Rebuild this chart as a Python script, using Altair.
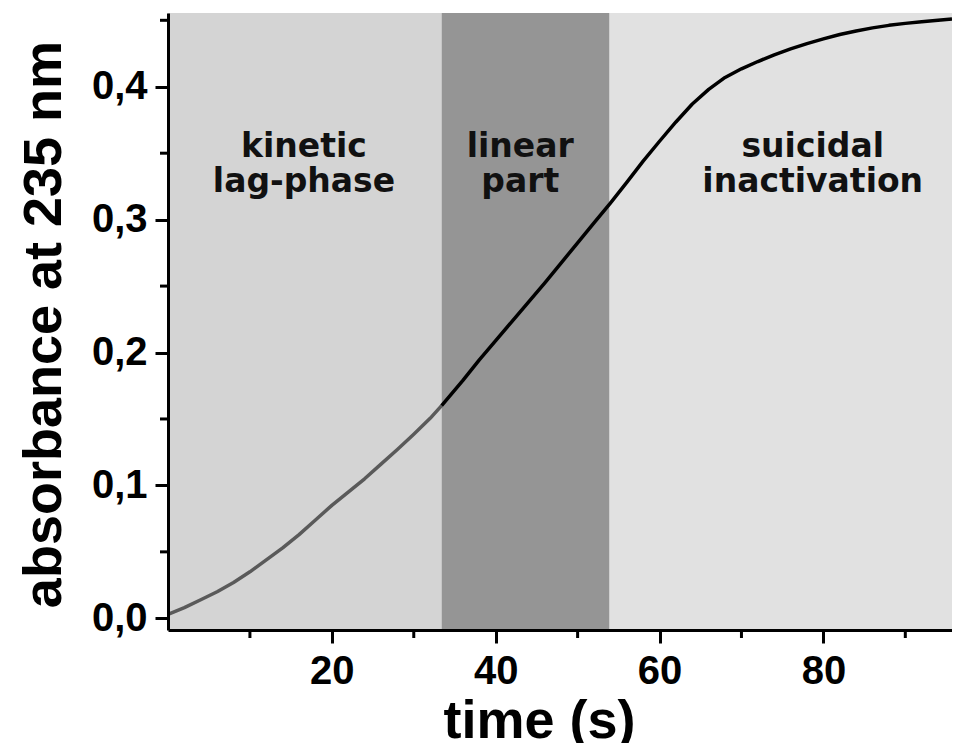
import altair as alt
import pandas as pd

# --- data ---
lag_t = [0, 2, 4, 6, 8, 10, 12, 14, 16, 18, 20, 22, 24, 26, 28, 30, 32, 33.4]
lag_a = [0.003, 0.008, 0.014, 0.020, 0.027, 0.035, 0.044, 0.053, 0.063, 0.074,
         0.085, 0.095, 0.105, 0.116, 0.127, 0.1385, 0.1505, 0.160]

main_t = [33.4, 36, 38, 40, 42, 44, 46, 48, 50, 52, 54, 56, 58, 60, 62, 64, 66,
          68, 70, 72, 74, 76, 78, 80, 82, 84, 86, 88, 90, 92, 94, 95.7]
main_a = [0.160, 0.179, 0.1945, 0.209, 0.2235, 0.238, 0.2525, 0.2675, 0.2825, 0.2975,
          0.3125, 0.328, 0.344, 0.359, 0.3735, 0.387, 0.398, 0.407, 0.4135, 0.419,
          0.424, 0.4285, 0.4325, 0.436, 0.4393, 0.442, 0.4443, 0.4462, 0.4477, 0.449,
          0.450, 0.451]

band_start = [0, 33.4, 53.9]
band_end = [33.4, 53.9, 95.7]
band_name = ["lag", "linear", "suicidal"]
band_color = ["#d4d4d4", "#959595", "#e1e1e1"]

ann_text = ["kinetic\nlag-phase", "linear\npart", "suicidal\ninactivation"]
ann_t = [16.6, 43.0, 78.7]
ann_a = [0.3473, 0.3473, 0.3473]

x_major = [20, 40, 60, 80]
x_minor = [10, 30, 50, 70, 90]
y_major = [0.0, 0.1, 0.2, 0.3, 0.4]
y_minor = [0.05, 0.15, 0.25, 0.35, 0.45]

X_DOMAIN = [0, 95.7]
Y_DOMAIN = [-0.0088, 0.4555]

curve = pd.DataFrame(
    {"t": lag_t + main_t,
     "a": lag_a + main_a,
     "seg": ["lag"] * len(lag_t) + ["main"] * len(main_t)}
)
bands = pd.DataFrame({"x0": band_start, "x1": band_end, "name": band_name})
ann = pd.DataFrame({"text": ann_text, "t": ann_t, "a": ann_a})
xmin = pd.DataFrame({"t": x_minor})
ymin = pd.DataFrame({"a": y_minor})

xscale = alt.Scale(domain=X_DOMAIN, nice=False, zero=False)
yscale = alt.Scale(domain=Y_DOMAIN, nice=False, zero=False)

TITLE_FONT = "Liberation Sans, Arial"
LABEL_FONT = "Liberation Sans, Arial"

x_axis = alt.Axis(
    values=x_major, title="time (s)", grid=False, zindex=1,
    titleX=371, titleY=107, titleBaseline="alphabetic",
    labelPadding=8,
)
y_axis = alt.Axis(
    values=y_major, title="absorbance at 235 nm", grid=False, zindex=1,
    labelExpr="replace(format(datum.value, '.1f'), '.', ',')",
    titleX=-108, titleY=311, titleBaseline="alphabetic",
    labelPadding=8,
)

rects = alt.Chart(bands).mark_rect().encode(
    x=alt.X("x0:Q", scale=xscale, axis=x_axis),
    x2="x1:Q",
    color=alt.Color("name:N", scale=alt.Scale(domain=band_name, range=band_color), legend=None),
)

line = alt.Chart(curve).mark_line(strokeWidth=3.5, strokeJoin="round").encode(
    x=alt.X("t:Q", scale=xscale, axis=x_axis),
    y=alt.Y("a:Q", scale=yscale, axis=y_axis),
    stroke=alt.Stroke("seg:N", scale=alt.Scale(domain=["lag", "main"], range=["#5a5a5a", "#000000"]), legend=None),
    detail="seg:N",
)

text = alt.Chart(ann).mark_text(
    font="DejaVu Sans", fontWeight="bold", fontSize=33, lineBreak="\n",
    lineHeight=35, align="center", baseline="alphabetic", color="#111111",
).encode(
    x=alt.X("t:Q", scale=xscale),
    y=alt.Y("a:Q", scale=yscale),
    text="text:N",
)

xticks = alt.Chart(xmin).mark_rule(color="black", strokeWidth=3).encode(
    x=alt.X("t:Q", scale=xscale),
    y=alt.value(617),
    y2=alt.value(625),
)
yticks = alt.Chart(ymin).mark_rule(color="black", strokeWidth=3).encode(
    y=alt.Y("a:Q", scale=yscale),
    x=alt.value(-8),
    x2=alt.value(0),
)

chart = alt.layer(rects, line, text, xticks, yticks).resolve_scale(
    color="independent"
).properties(
    width=784, height=617, autosize="none",
    padding={"left": 160, "top": 5, "right": 0, "bottom": 113},
).configure_view(
    stroke=None
).configure_axis(
    domainColor="black", domainWidth=3, tickColor="black", tickWidth=3,
    tickSize=13, labelColor="black", labelFont=LABEL_FONT, labelFontWeight="bold",
    labelFontSize=40, titleColor="black", titleFont=TITLE_FONT,
    titleFontWeight="bold", titleFontSize=54,
)

chart.save("out.html", embed_options={"renderer": "svg", "actions": False})
